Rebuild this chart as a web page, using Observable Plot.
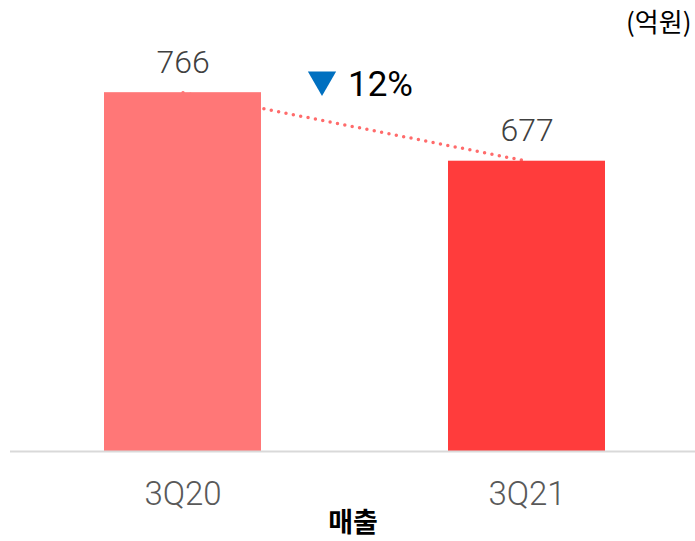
<!DOCTYPE html>
<html><head><meta charset="utf-8">
<script src="https://cdn.jsdelivr.net/npm/d3@7"></script>
<script src="https://cdn.jsdelivr.net/npm/@observablehq/plot@0.6"></script>
<style>body{margin:0;background:#fff}</style>
</head><body><div id="chart"></div>
<script>
const categories = ["3Q20", "3Q21"];
const values = [766, 677];
const barColors = ["#ff7777", "#ff3c3c"];
const changeLabel = "12%";
const unitLabel = "(억원)";
const axisTitle = "매출";

const data = categories.map((c, i) => ({category: c, value: values[i], color: barColors[i]}));
const F = "'Roboto', sans-serif";

const chart = Plot.plot({
  width: 695, height: 541,
  marginLeft: 10, marginRight: 0, marginTop: 66, marginBottom: 90,
  style: {fontFamily: F, background: "#fff"},
  x: {domain: categories, range: [10, 698], paddingInner: 0.544, paddingOuter: 0.272, label: null},
  y: {domain: [300, 800], axis: null},
  marks: [
    Plot.line(data, {x: "category", y: "value", stroke: "#ff6b6b", strokeWidth: 3.5, strokeDasharray: "0 7.5", strokeLinecap: "round"}),
    Plot.barY(data, {x: "category", y1: 300, y2: "value", fill: "color"}),
    Plot.ruleY([300], {stroke: "#d9d9d9", strokeWidth: 2}),
    Plot.axisX({tickSize: 0, tickPadding: 30, fontSize: 33, fontWeight: 300, fill: "#595959", label: null}),
    Plot.text(data, {x: "category", y: "value", text: d => String(d.value), dy: -30, fontSize: 32, fontWeight: 300, fill: "#404040"}),
    Plot.dot([data[0]], {x: "category", y: "value", symbol: "triangle", rotate: 180, r: 10.5, dx: 139, dy: -13, fill: "#0070c0", stroke: "none"}),
    Plot.text([data[0]], {x: "category", y: "value", text: () => changeLabel, dx: 165, dy: -8, textAnchor: "start", fontSize: 35, fontWeight: 400, fill: "#000"}),
    Plot.text([axisTitle], {frameAnchor: "bottom", lineAnchor: "middle", dy: 72, fontSize: 27, fontWeight: "bold", fill: "#000", fontFamily: "'Noto Sans CJK KR', sans-serif"}),
    Plot.text([unitLabel], {frameAnchor: "top-right", lineAnchor: "middle", textAnchor: "end", dx: -4, dy: -43, fontSize: 26, fill: "#000", fontFamily: "'Noto Sans CJK KR', sans-serif"})
  ]
});
document.getElementById("chart").appendChild(chart);
</script></body></html>
